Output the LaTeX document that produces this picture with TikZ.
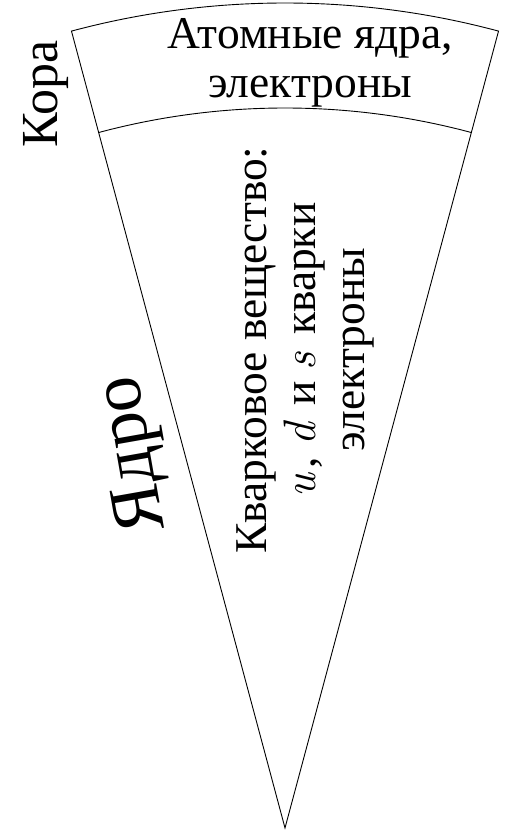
\documentclass[tikz,border=0pt]{standalone}
\usepackage{fontspec}
\setmainfont{Liberation Serif}
\newfontfamily\lmfont{Latin Modern Roman}
\newcommand{\mv}[1]{{\lmfont\itshape #1}\hspace{0.12em}}
\usetikzlibrary{calc}
\begin{document}
\begin{tikzpicture}[x=1pt,y=1pt,
  edge/.style={line width=0.9pt},
  lbl/.style={inner sep=0pt,align=center,font=\fontsize{45.5}{49}\selectfont}]
\useasboundingbox (0,0) rectangle (506,830);
\coordinate (apex) at (285,2);
\coordinate (ol) at ($(apex)+(105:825)$);
\coordinate (il) at ($(apex)+(105:720)$);
\draw[edge] (apex) -- (ol) arc[start angle=105,end angle=75,radius=825] -- cycle;
\draw[edge] (il) arc[start angle=105,end angle=75,radius=720];
\node[lbl] (crust) at (310,767) {Атомные ядра,\\электроны};
\node[lbl,rotate=90,font=\fontsize{52}{56}\selectfont] (kora) at (46,736) {Кора};
\node[lbl,rotate=100,font=\fontsize{72}{76}\selectfont] (core) at (135,376) {Ядро};
\node[lbl,rotate=90] (quark) at (305,480) {Кварковое вещество:\\\mv{u}, \mv{d} и \mv{s} кварки\\электроны};
\end{tikzpicture}
\end{document}
